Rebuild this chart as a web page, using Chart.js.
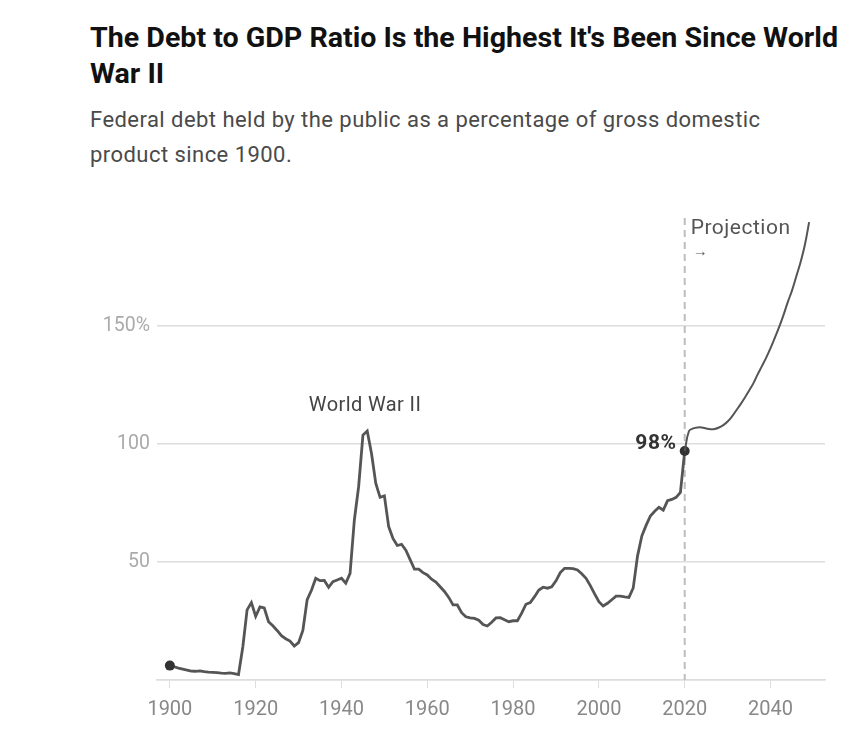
<!DOCTYPE html>
<html>
<head>
<meta charset="utf-8">
<script src="https://cdn.jsdelivr.net/npm/chart.js@4.4.1/dist/chart.umd.min.js"></script>
<style>
  body { margin: 0; width: 863px; height: 748px; background: #fff; position: relative; overflow: hidden; font-family: Roboto, sans-serif; }
  #title { position: absolute; left: 90px; top: 20px; font-size: 28px; line-height: 36px; font-weight: 700; color: #111; white-space: nowrap; transform-origin: left top; }
  #subtitle { position: absolute; left: 90px; top: 102px; font-size: 22px; line-height: 35px; letter-spacing: 0.45px; color: #4a4a4a; white-space: nowrap; }
  #wrap { position: absolute; left: 0; top: 0; width: 863px; height: 748px; }
</style>
</head>
<body>
<div id="title"><span id="t1">The Debt to GDP Ratio Is the Highest It's Been Since World</span><br>War II</div>
<div id="subtitle">Federal debt held by the public as a percentage of gross domestic<br>product since 1900.</div>
<div id="wrap"><canvas id="chart"></canvas></div>
<script>
// historical debt held by the public, % of GDP
const histYears = [
  1900, 1901, 1902, 1903, 1904, 1905, 1906, 1907, 1908, 1909,
  1910, 1911, 1912, 1913, 1914, 1915, 1916, 1917, 1918, 1919,
  1920, 1921, 1922, 1923, 1924, 1925, 1926, 1927, 1928, 1929,
  1930, 1931, 1932, 1933, 1934, 1935, 1936, 1937, 1938, 1939,
  1940, 1941, 1942, 1943, 1944, 1945, 1946, 1947, 1948, 1949,
  1950, 1951, 1952, 1953, 1954, 1955, 1956, 1957, 1958, 1959,
  1960, 1961, 1962, 1963, 1964, 1965, 1966, 1967, 1968, 1969,
  1970, 1971, 1972, 1973, 1974, 1975, 1976, 1977, 1978, 1979,
  1980, 1981, 1982, 1983, 1984, 1985, 1986, 1987, 1988, 1989,
  1990, 1991, 1992, 1993, 1994, 1995, 1996, 1997, 1998, 1999,
  2000, 2001, 2002, 2003, 2004, 2005, 2006, 2007, 2008, 2009,
  2010, 2011, 2012, 2013, 2014, 2015, 2016, 2017, 2018, 2019,
  2020,
];
const histValues = [
  6.1, 5.6, 5.0, 4.6, 4.2, 3.8, 3.7, 3.9, 3.5, 3.3,
  3.2, 3.1, 2.9, 2.8, 3.0, 2.7, 2.3, 14, 29.7, 32.8,
  27, 31, 30.5, 24.7, 23, 21, 18.8, 17.5, 16.5, 14.4,
  15.8, 21, 34, 38, 43.1, 42.1, 42.2, 39.3, 41.7, 42.4,
  43.1, 41, 45.2, 67.8, 82, 103.8, 105.5, 96, 83.3, 77.4,
  78, 65, 60, 57, 57.5, 55, 51, 47, 47, 45.5,
  44.5, 42.7, 41.5, 39.5, 37.5, 35, 31.8, 31.8, 28.5, 26.8,
  26.3, 26.1, 25.3, 23.5, 22.9, 24.5, 26.3, 26.4, 25.5, 24.7,
  25.1, 25.1, 28.3, 32.1, 32.8, 35.3, 38.1, 39.3, 38.9, 39.5,
  42, 45.5, 47.3, 47.3, 47.2, 46.6, 45, 43.1, 40, 36.5,
  33.2, 31.4, 32.5, 34, 35.5, 35.5, 35.2, 35, 39, 52.5,
  61, 65.5, 69.5, 71.5, 73.2, 72, 76, 76.5, 77.4, 79.5,
  97,
];

// projection
const projYears = [
  2020, 2021, 2022, 2023, 2024, 2025, 2026, 2027, 2028, 2029,
  2030, 2031, 2032, 2033, 2034, 2035, 2036, 2037, 2038, 2039,
  2040, 2041, 2042, 2043, 2044, 2045, 2046, 2047, 2048, 2049,
];
const projValues = [
  97, 105.5, 106.6, 107, 107, 106.6, 106.3, 106.4, 107, 108,
  109.5, 111.6, 114.2, 116.8, 119.6, 122.6, 125.7, 129.5, 133, 136.6,
  140.6, 145, 149.5, 154.5, 160, 165, 171, 177, 184.3, 194,
];

const xTicks = [1900, 1920, 1940, 1960, 1980, 2000, 2020, 2040];
const yTicks = [0, 50, 100, 150];
const yTickLabels = ["", "50", "100", "150%"];

const projectionStart = 2020;
const currentLabel = "98%";
const warLabel = "World War II";
const warYear = 1945.5;

function qs(selector, parent = document) {
  return parent.querySelector(selector);
}

function pairs(xs, ys) {
  return xs.map((x, i) => ({ x: x, y: ys[i] }));
}

// squeeze the bold headline to the width of the original condensed face
function fitTitle() {
  const w = qs("#t1").getBoundingClientRect().width;
  qs("#title").style.transform = "scaleX(" + (748 / w) + ")";
}

const annotations = {
  id: "annotations",
  beforeDatasetsDraw(chart) {
    const { ctx, scales } = chart;
    const x = scales.x.getPixelForValue(projectionStart);
    ctx.save();
    ctx.strokeStyle = "#bdbdbd";
    ctx.lineWidth = 2;
    ctx.setLineDash([7, 5]);
    ctx.beginPath();
    ctx.moveTo(x, 218);
    ctx.lineTo(x, scales.y.getPixelForValue(0));
    ctx.stroke();
    ctx.restore();
  },
  afterDatasetsDraw(chart) {
    const { ctx, scales } = chart;
    const x = scales.x.getPixelForValue(projectionStart);
    ctx.save();
    ctx.textBaseline = "middle";

    ctx.fillStyle = "#555";
    ctx.textAlign = "left";
    ctx.font = "21px Roboto";
    ctx.letterSpacing = "0.5px";
    ctx.fillText("Projection", x + 6, 229);
    ctx.font = "15px Roboto";
    ctx.fillText("\u2192", x + 8, 252);

    const peak = Math.max(...histValues);
    ctx.fillStyle = "#444";
    ctx.textAlign = "center";
    ctx.font = "20px Roboto";
    ctx.letterSpacing = "0.4px";
    ctx.fillText(warLabel, scales.x.getPixelForValue(warYear), scales.y.getPixelForValue(peak) - 25);

    const last = histValues[histValues.length - 1];
    ctx.fillStyle = "#333";
    ctx.textAlign = "right";
    ctx.font = "bold 21px Roboto";
    ctx.letterSpacing = "0.6px";
    ctx.fillText(currentLabel, x - 8, scales.y.getPixelForValue(last) - 7);
    ctx.restore();
  },
};

function chart() {
  const el = qs("#chart").getContext("2d");
  const lastIndex = histValues.length - 1;
  new Chart(el, {
    type: "line",
    data: {
      datasets: [
        {
          label: "Projection",
          data: pairs(projYears, projValues),
          borderColor: "#555",
          borderWidth: 2,
          tension: 0.4,
          pointRadius: 0,
        },
        {
          label: "Debt to GDP",
          data: pairs(histYears, histValues),
          borderColor: "#555",
          borderWidth: 2.8,
          tension: 0,
          pointRadius: (c) => (c.dataIndex === 0 || c.dataIndex === lastIndex ? 5 : 0),
          pointBackgroundColor: "#333",
          pointBorderWidth: 0,
        },
      ],
    },
    options: {
      responsive: true,
      maintainAspectRatio: false,
      animation: false,
      layout: { padding: { left: 0, right: 38, top: 208, bottom: 0 } },
      plugins: { legend: { display: false }, tooltip: { enabled: false } },
      scales: {
        x: {
          type: "linear",
          min: 1897,
          max: 2052.7,
          afterBuildTicks: (s) => { s.ticks = xTicks.map((v) => ({ value: v })); },
          afterFit: (s) => { s.height = 68; },
          ticks: {
            callback: (v) => String(v),
            color: "#888",
            font: { family: "Roboto", size: 20 },
            padding: 10,
            maxRotation: 0,
          },
          grid: { drawOnChartArea: false, drawTicks: true, tickLength: 8, color: "#ddd" },
          border: { display: true, color: "#ddd", width: 1.5 },
        },
        y: {
          min: 0,
          max: 200,
          afterBuildTicks: (s) => { s.ticks = yTicks.map((v) => ({ value: v })); },
          afterFit: (s) => { s.width = 157; },
          ticks: {
            callback: (v) => yTickLabels[yTicks.indexOf(v)],
            color: "#aaa",
            font: { family: "Roboto", size: 19.5 },
            padding: 7,
          },
          grid: { drawTicks: false, color: "#ddd", lineWidth: 1.5 },
          border: { display: false },
        },
      },
    },
    plugins: [annotations],
  });
}

document.addEventListener("readystatechange", (event) => {
  if (event.target.readyState === "complete") {
    fitTitle();
    chart();
  }
});
</script>
</body>
</html>
